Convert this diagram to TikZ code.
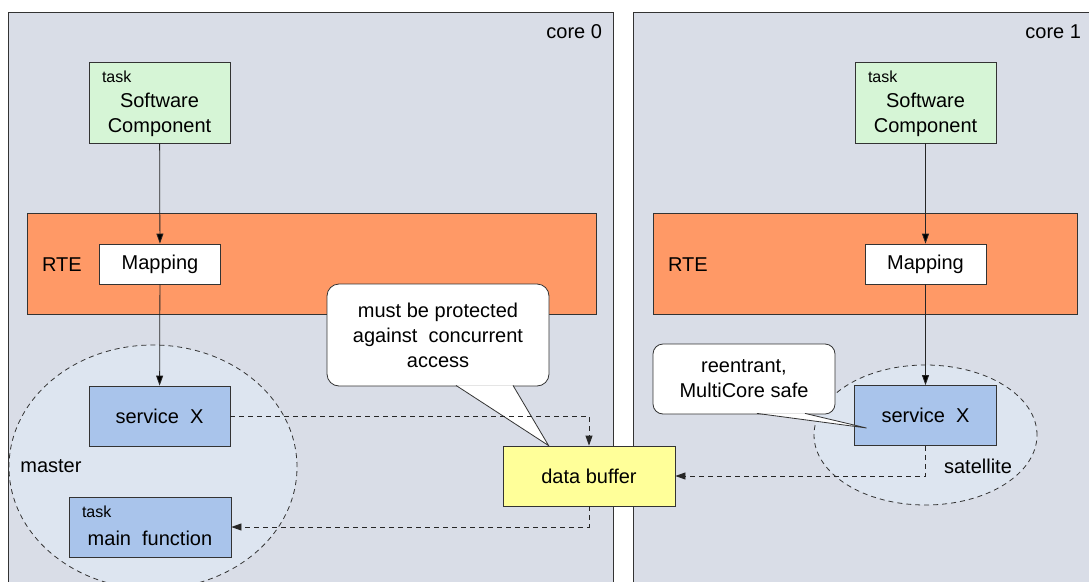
\documentclass[tikz,border=0pt]{standalone}
\usepackage{fontspec}
\setmainfont{Liberation Sans}
\usetikzlibrary{arrows.meta,calc,shapes.geometric}

\definecolor{coregray}{RGB}{217,221,231}
\definecolor{ringblue}{RGB}{221,229,240}
\definecolor{rteorange}{RGB}{255,153,102}
\definecolor{swgreen}{RGB}{214,245,214}
\definecolor{svcblue}{RGB}{169,196,235}
\definecolor{bufyellow}{RGB}{255,255,153}

\begin{document}
\begin{tikzpicture}[x=1pt,y=-1pt,>={Triangle[length=10pt,width=7pt]},
  font=\fontsize{20}{25}\selectfont,line width=0.8pt,
  every label/.style={inner sep=0pt},
  box/.style={draw=black!80,inner sep=0pt,align=center},
  corebox/.style={box,fill=coregray,minimum height=588pt},
  rtebox/.style={box,fill=rteorange,minimum height=101pt,
    label={[anchor=west,xshift=15pt,yshift=-1pt]west:RTE}},
  mapbox/.style={box,fill=white,minimum width=121pt,minimum height=40pt},
  tasktag/.style={label={[anchor=west,xshift=13pt,yshift=-15pt,
    font=\fontsize{16}{19}\selectfont]north west:task}},
  swbox/.style={box,fill=swgreen,minimum width=141pt,minimum height=81pt,tasktag,
    label={[align=center,yshift=-12pt]center:Software\\Component}},
  svcbox/.style={box,fill=svcblue,minimum width=141pt,minimum height=60pt},
  ring/.style={ellipse,draw=black!80,fill=ringblue,dash pattern=on 5pt off 4pt,inner sep=0pt},
  note/.style={box,fill=white,rounded corners=12pt},
  flow/.style={->,draw=black!85},
  dataflow/.style={flow,dash pattern=on 5pt off 4pt}]
\useasboundingbox (0,0) rectangle (1089,581);
\clip (0,0) rectangle (1089,581);

% cores
\node (core0) [corebox,minimum width=605pt,label={[anchor=east,xshift=-11pt,yshift=-20pt]north east:core 0}] at (310.5,306) {};
\node (core1) [corebox,minimum width=459pt,label={[anchor=east,xshift=-11pt,yshift=-20pt]north east:core 1}] at (862.5,306) {};

% RTE layers
\node (rte0) [rtebox,minimum width=569pt] at (311.5,263.5) {};
\node (rte1) [rtebox,minimum width=424pt] at (865,263.5) {};

% master / satellite regions
\node (master) [ring,minimum width=288pt,minimum height=244pt] at (153,467) {};
\node (mastertxt) [anchor=west,inner sep=0pt] at (20,466) {master};
\node (satellite) [ring,minimum width=223pt,minimum height=140pt] at (925.5,435) {};
\node (satellitetxt) at (978,466) {satellite};

% core 0
\node (sw0) [swbox] at (159.5,102.5) {};
\node (map0) [mapbox] at (160,264) {Mapping};
\node (svc0) [svcbox] at (159.5,416) {service~ X};
\node (main0) [box,fill=svcblue,minimum width=162pt,minimum height=60pt,tasktag,
  label={[yshift=-11pt]center:main~ function}] at (150,527) {};

% core 1
\node (sw1) [swbox] at (925.5,102.5) {};
\node (map1) [mapbox] at (925.5,264) {Mapping};
\node (svc1) [svcbox,minimum width=142pt] at (925.5,415.5) {service~ X};

% shared buffer
\node (buf) [box,fill=bufyellow,minimum width=172pt,minimum height=60pt] at (589,476) {data buffer};

% notes
\node (note1) [note,minimum width=222pt,minimum height=102pt] at (438,335) {must be protected\\against~ concurrent\\access};
\coordinate (tip1) at ($(buf.north west)+(46,0)$);
\filldraw[fill=white,draw=black!80] ($(note1.south)+(18,-1)$) -- (tip1) -- ($(note1.south)+(75,-1)$);

\node (note2) [note,rounded corners=10pt,minimum width=182pt,minimum height=70pt] at (744,379) {reentrant,\\MultiCore safe};
\coordinate (tip2) at ($(svc1.west)+(12.5,12.5)$);
\filldraw[fill=white,draw=black!80] ($(note2.south)+(13,-1)$) -- (tip2) -- ($(note2.south)+(61,-1)$);

% connectors
\path[flow] (sw0) edge (map0);
\path[flow] (map0) edge (svc0);
\path[flow] (sw1) edge (map1);
\path[flow] (map1) edge (svc1);

\draw[dataflow] (svc0.east) -| (buf.north);
\draw[dataflow] (buf.south) |- (main0.east);
\draw[dataflow] (svc1.south) |- (buf.east);
\end{tikzpicture}
\end{document}
